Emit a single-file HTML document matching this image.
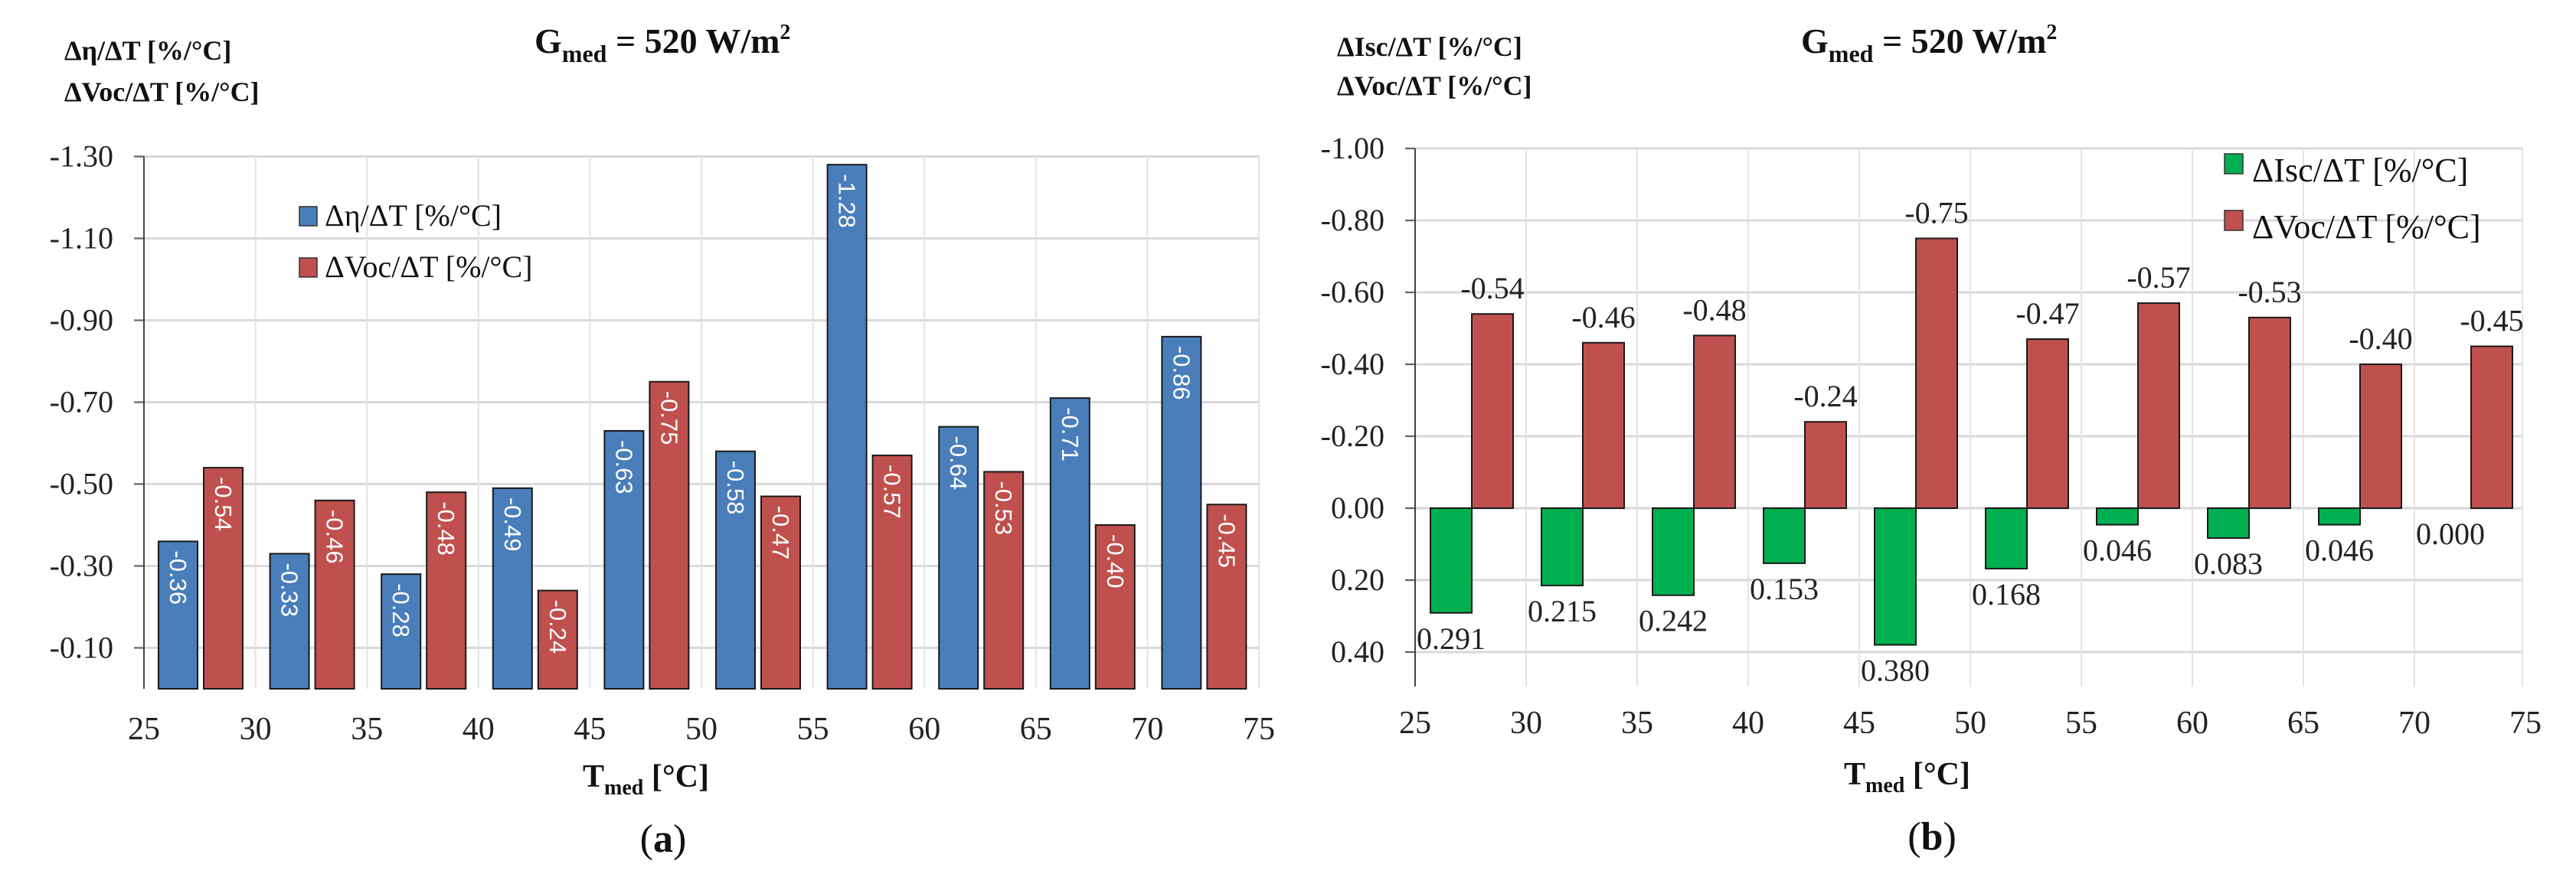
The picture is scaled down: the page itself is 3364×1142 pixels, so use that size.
<!DOCTYPE html>
<html><head><meta charset="utf-8"><style>
html,body{margin:0;padding:0;background:#fff;}
svg{display:block;font-family:"Liberation Serif",serif;}
</style></head><body>
<svg id="fig" width="3364" height="1142" viewBox="0 0 3364 1142">
<g id="ca"></g>
<g id="cb"></g>
</svg>
<script>
// Chart (a) data
const catsA = [25,30,35,40,45,50,55,60,65,70];
const etaA = [-0.36,-0.33,-0.28,-0.49,-0.63,-0.58,-1.28,-0.64,-0.71,-0.86];
const vocA = [-0.54,-0.46,-0.48,-0.24,-0.75,-0.47,-0.57,-0.53,-0.40,-0.45];
const yTicksA = [-1.30,-1.10,-0.90,-0.70,-0.50,-0.30,-0.10];
const xTicks = [25,30,35,40,45,50,55,60,65,70,75];
// Chart (b) data
const catsB = [25,30,35,40,45,50,55,60,65,70];
const iscB = [0.291,0.215,0.242,0.153,0.380,0.168,0.046,0.083,0.046,0.000];
const vocB = [-0.54,-0.46,-0.48,-0.24,-0.75,-0.47,-0.57,-0.53,-0.40,-0.45];
const yTicksB = [-1.00,-0.80,-0.60,-0.40,-0.20,0.00,0.20,0.40];

const NS = "http://www.w3.org/2000/svg";
function mk(parent, tag, attrs, text){
  const e = document.createElementNS(NS, tag);
  for (const k in attrs) e.setAttribute(k, attrs[k]);
  if (text !== undefined) e.textContent = text;
  parent.appendChild(e);
  return e;
}

// ---------- Chart A ----------
(function(){
  const g = document.getElementById('ca');
  const x0 = 188, pxPer5 = 145.6;
  const xs = v => x0 + (v - 25) / 5 * pxPer5;
  const ys = v => 900 - (-v) * 535; // value (negative) -> y
  const top = ys(-1.30), bottom = 900;
  // grid
  yTicksA.forEach(t => {
    const l = mk(g,'line',{x1:x0-13,x2:xs(75),y1:ys(t),y2:ys(t),stroke:'#d9d9d9','stroke-width':3});
    
    
    const tk = mk(g,'line',{x1:x0-13,x2:x0,y1:ys(t),y2:ys(t),stroke:'#666','stroke-width':2});
    
    
    const tx = mk(g,'text',{x:148,y:ys(t)+13,'text-anchor':'end','font-size':40,fill:'#222'},t.toFixed(2));
    
    
  });
  xTicks.forEach(t => {
    if (t>25){
      const l = mk(g,'line',{x1:xs(t),x2:xs(t),y1:top,y2:bottom,stroke:'#e3e3e3','stroke-width':2});
      
      
    }
    const tx = mk(g,'text',{x:xs(t),y:966,'text-anchor':'middle','font-size':42,fill:'#222'},String(t));
    
    
  });
  const ax = mk(g,'line',{x1:x0,x2:x0,y1:top,y2:bottom,stroke:'#444','stroke-width':2});
  
  
  const bw = 51;
  catsA.forEach((c,i) => {
    const series = [[etaA[i],'#4a7ebb',19,'bar-eta'],[vocA[i],'#c0504d',78,'bar-voc']];
    series.forEach(([v,col,off,nm]) => {
      const bx = xs(c)+off, by = ys(v);
      const r = mk(g,'rect',{x:bx,y:by,width:bw,height:bottom-by,fill:col,stroke:'#1a1a1a','stroke-width':2});
      
      
      const cx = bx+bw/2, ty = by+12;
      const t = mk(g,'text',{x:0,y:0,transform:`translate(${cx},${ty}) rotate(90)`,'text-anchor':'start','dominant-baseline':'central','font-family':'"Liberation Sans",sans-serif','font-size':31,fill:'#fff'},v.toFixed(2));
      
      
    });
  });
})();

// ---------- Chart B ----------
(function(){
  const g = document.getElementById('cb');
  const x0 = 1848, pxPer5 = 145;
  const xs = v => x0 + (v - 25) / 5 * pxPer5;
  const ys = v => 664 + v * 470; // -1.00 at top
  const top = ys(-1.00), bottom = 897;
  yTicksB.forEach(t => {
    const l = mk(g,'line',{x1:x0-13,x2:xs(75)-4,y1:ys(t),y2:ys(t),stroke:'#d9d9d9','stroke-width':3});
    
    
    const tk = mk(g,'line',{x1:x0-13,x2:x0,y1:ys(t),y2:ys(t),stroke:'#666','stroke-width':2});
    
    
    const tx = mk(g,'text',{x:1808,y:ys(t)+13,'text-anchor':'end','font-size':40,fill:'#222'},t.toFixed(2));
    
    
  });
  xTicks.forEach(t => {
    if (t>25){
      const l = mk(g,'line',{x1:xs(t)-(t==75?4:0),x2:xs(t)-(t==75?4:0),y1:top,y2:bottom,stroke:'#e3e3e3','stroke-width':2});
      
      
    }
    const tx = mk(g,'text',{x:xs(t),y:958,'text-anchor':'middle','font-size':42,fill:'#222'},String(t));
    
    
  });
  const ax = mk(g,'line',{x1:x0,x2:x0,y1:top,y2:bottom,stroke:'#444','stroke-width':2});
  
  
  const bw = 54;
  catsB.forEach((c,i) => {
    // Isc bar (positive values plotted downward)
    const gx = xs(c)+20, gy0 = ys(0), gy1 = ys(iscB[i]);
    if (iscB[i] > 0){
      const r = mk(g,'rect',{x:gx,y:gy0,width:bw,height:gy1-gy0,fill:'#00b050',stroke:'#1a1a1a','stroke-width':2});
      
      
    }
    const gl = mk(g,'text',{x:gx+bw/2,y:gy1+47,'text-anchor':'middle','font-size':40,fill:'#222'},iscB[i].toFixed(3));
    
    
    // Voc bar
    const rx = xs(c)+74, ry = ys(vocB[i]);
    const r2 = mk(g,'rect',{x:rx,y:ry,width:bw,height:gy0-ry,fill:'#c0504d',stroke:'#1a1a1a','stroke-width':2});
    
    
    const rl = mk(g,'text',{x:rx+bw/2,y:ry-20,'text-anchor':'middle','font-size':40,fill:'#222'},vocB[i].toFixed(2));
    
    
  });
})();
</script>
<svg width="0" height="0" style="position:absolute"></svg>
<script>
// static text elements
(function(){
  const svg = document.getElementById('fig');
  const NS2 = "http://www.w3.org/2000/svg";
  function t(x,y,size,weight,str,name,anchor){
    const e = document.createElementNS(NS2,'text');
    e.setAttribute('x',x); e.setAttribute('y',y);
    e.setAttribute('font-size',size); e.setAttribute('font-weight',weight);
    e.setAttribute('fill','#111');
    if(anchor) e.setAttribute('text-anchor',anchor);
    e.innerHTML = str;
    
    
    svg.appendChild(e); return e;
  }
  t(84,78,36,'bold','Δη/ΔT [%/°C]','y-axis-title-a-line1');
  t(84,132,36,'bold','ΔVoc/ΔT [%/°C]','y-axis-title-a-line2');
  t(698,69,46,'bold','G<tspan font-size="32" dy="12">med</tspan><tspan dy="-12"> = 520 W/m</tspan><tspan font-size="28" dy="-18">2</tspan>','chart-title-a');
  t(761,1028,42,'bold','T<tspan font-size="28" dy="10">med</tspan><tspan dy="-10"> [°C]</tspan>','x-axis-title-a');
  t(866,1113,52,'normal','(<tspan font-weight="bold">a</tspan>)','panel-label-a','middle');

  t(1746,73,36,'bold','ΔIsc/ΔT [%/°C]','y-axis-title-b-line1');
  t(1746,124,36,'bold','ΔVoc/ΔT [%/°C]','y-axis-title-b-line2');
  t(2352,69,46,'bold','G<tspan font-size="32" dy="12">med</tspan><tspan dy="-12"> = 520 W/m</tspan><tspan font-size="28" dy="-18">2</tspan>','chart-title-b');
  t(2408,1025,42,'bold','T<tspan font-size="28" dy="10">med</tspan><tspan dy="-10"> [°C]</tspan>','x-axis-title-b');
  t(2523,1110,52,'normal','(<tspan font-weight="bold">b</tspan>)','panel-label-b','middle');

  // legends
  function sw(x,y,w,h,col,name){
    const r = document.createElementNS(NS2,'rect');
    r.setAttribute('x',x); r.setAttribute('y',y); r.setAttribute('width',w); r.setAttribute('height',h);
    r.setAttribute('fill',col); r.setAttribute('stroke','#333'); r.setAttribute('stroke-width',1.5);
    
    
    svg.appendChild(r);
  }
  sw(391,270,23,25,'#4a7ebb','legend-swatch-eta');
  t(424,295,40,'normal','Δη/ΔT [%/°C]','legend-entry-eta');
  sw(391,337,23,25,'#c0504d','legend-swatch-voc-a');
  t(424,362,40,'normal','ΔVoc/ΔT [%/°C]','legend-entry-voc-a');
  sw(2905,201,24,26,'#00b050','legend-swatch-isc');
  t(2941,237,44,'normal','ΔIsc/ΔT [%/°C]','legend-entry-isc');
  sw(2905,275,24,26,'#c0504d','legend-swatch-voc-b');
  t(2941,311,44,'normal','ΔVoc/ΔT [%/°C]','legend-entry-voc-b');
})();
</script>
</body></html>
